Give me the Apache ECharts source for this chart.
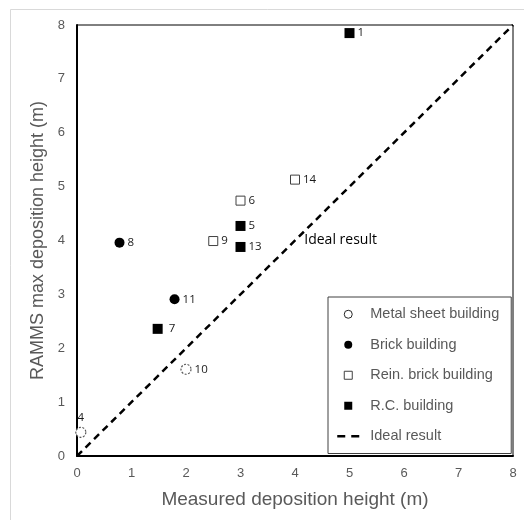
<!DOCTYPE html>
<html>
<head>
<meta charset="utf-8">
<script src="https://cdn.jsdelivr.net/npm/echarts@6/dist/echarts.min.js"></script>
<style>
html,body{margin:0;padding:0;background:#fff;}
#chart{width:524px;height:520px;}
</style>
</head>
<body>
<div id="chart"></div>
<script>
// ---- data ----
const metalPoints = [[0.07, 0.44], [2.0, 1.61]];
const metalLabels = ['4', '10'];
const brickPoints = [[0.78, 3.96], [1.79, 2.91]];
const brickLabels = ['8', '11'];
const reinPoints = [[3.0, 4.74], [2.5, 3.99], [4.0, 5.13]];
const reinLabels = ['6', '9', '14'];
const rcPoints = [[5.0, 7.85], [3.0, 4.27], [3.0, 3.88], [1.48, 2.36]];
const rcLabels = ['1', '5', '13', ' 7'];
const idealLine = [[0, 0], [8, 8]];
const idealNote = [4.17, 4.0];
const axisTicks = [0, 1, 2, 3, 4, 5, 6, 7, 8];
const seriesNames = ['Metal sheet building', 'Brick building', 'Rein. brick building', 'R.C. building', 'Ideal result'];

function withLabels(points, labels, pos) {
  return points.map((p, i) => ({
    value: p,
    label: { formatter: labels[i], position: (pos && pos[i]) || 'right' }
  }));
}

const labelStyle = {
  show: true, fontFamily: 'Open Sans', fontSize: 11.5, color: '#1a1a1a', distance: 3
};
const squareIcon = 'path://M0,0L10,0L10,10L0,10Z';

const chart = echarts.init(document.getElementById('chart'), null, { renderer: 'canvas' });
chart.setOption({
  animation: false,
  backgroundColor: '#fff',
  graphic: [{
    type: 'rect', silent: true, z: -10,
    shape: { x: 10.5, y: 9.5, width: 600, height: 600 },
    style: { fill: 'none', stroke: '#d9d9d9', lineWidth: 1 }
  }],
  grid: {
    left: 77, right: 11, top: 25, bottom: 64,
    show: true, borderColor: '#000', borderWidth: 1, backgroundColor: 'transparent'
  },
  xAxis: {
    type: 'value', min: axisTicks[0], max: axisTicks[axisTicks.length - 1], interval: 1,
    name: 'Measured deposition height (m)', nameLocation: 'middle', nameGap: 34,
    nameTextStyle: { fontFamily: 'Liberation Sans', fontSize: 19, color: '#595959' },
    axisLine: { show: true, onZero: false, lineStyle: { color: '#000', width: 2 } },
    axisTick: { show: false },
    splitLine: { show: false },
    axisLabel: { fontFamily: 'Liberation Sans', fontSize: 13, color: '#595959', margin: 11 }
  },
  yAxis: {
    type: 'value', min: axisTicks[0], max: axisTicks[axisTicks.length - 1], interval: 1,
    name: 'RAMMS max deposition height (m)', nameLocation: 'middle', nameGap: 21,
    nameTextStyle: { fontFamily: 'Liberation Sans', fontSize: 18, color: '#595959' },
    axisLine: { show: true, onZero: false, lineStyle: { color: '#000', width: 2 } },
    axisTick: { show: false },
    splitLine: { show: false },
    axisLabel: { fontFamily: 'Liberation Sans', fontSize: 13, color: '#595959', margin: 12 }
  },
  legend: {
    orient: 'vertical',
    left: 328, top: 297,
    padding: [9, 12, 9, 8],
    itemWidth: 22, itemHeight: 8, itemGap: 14,
    borderColor: '#404040', borderWidth: 1, backgroundColor: '#fff',
    textStyle: { fontFamily: 'Liberation Sans', fontSize: 14.5, color: '#595959', lineHeight: 16.5, padding: [0, 0, 0, 6] },
    data: [
      { name: seriesNames[0], icon: 'circle', itemStyle: { color: '#fff', borderColor: '#262626', borderWidth: 1, borderType: 'solid' } },
      { name: seriesNames[1], icon: 'circle', itemStyle: { color: '#000' } },
      { name: seriesNames[2], icon: squareIcon, itemStyle: { color: '#fff', borderColor: '#404040', borderWidth: 1 } },
      { name: seriesNames[3], icon: squareIcon, itemStyle: { color: '#000' } },
      { name: seriesNames[4], itemStyle: { opacity: 0 }, lineStyle: { color: '#000', width: 2.5, type: [8, 6] } }
    ]
  },
  series: [
    {
      name: seriesNames[0], type: 'scatter', symbol: 'circle', symbolSize: 10,
      itemStyle: { color: '#fff', opacity: 1, borderColor: '#595959', borderWidth: 1.2, borderType: [2, 1.5] },
      label: labelStyle,
      data: withLabels(metalPoints, metalLabels, ['top', 'right']),
      z: 3
    },
    {
      name: seriesNames[1], type: 'scatter', symbol: 'circle', symbolSize: 10,
      itemStyle: { color: '#000', opacity: 1 },
      label: labelStyle,
      data: withLabels(brickPoints, brickLabels),
      z: 3
    },
    {
      name: seriesNames[2], type: 'scatter', symbol: 'rect', symbolSize: 9,
      itemStyle: { color: '#fff', opacity: 1, borderColor: '#404040', borderWidth: 1 },
      label: labelStyle,
      data: withLabels(reinPoints, reinLabels),
      z: 3
    },
    {
      name: seriesNames[3], type: 'scatter', symbol: 'rect', symbolSize: 10,
      itemStyle: { color: '#000', opacity: 1 },
      label: labelStyle,
      data: withLabels(rcPoints, rcLabels),
      z: 3
    },
    {
      name: seriesNames[4], type: 'line', symbol: 'none', silent: true,
      lineStyle: { color: '#000', width: 2.5, type: [7, 5] },
      itemStyle: { color: '#000' },
      data: idealLine,
      z: 2,
      markPoint: {
        symbol: 'circle', symbolSize: 0, silent: true,
        label: { show: true, position: 'right', distance: 0, formatter: 'Ideal result',
                 fontFamily: 'Open Sans', fontSize: 14, color: '#000' },
        data: [{ coord: idealNote }]
      }
    }
  ]
});
</script>
</body>
</html>
